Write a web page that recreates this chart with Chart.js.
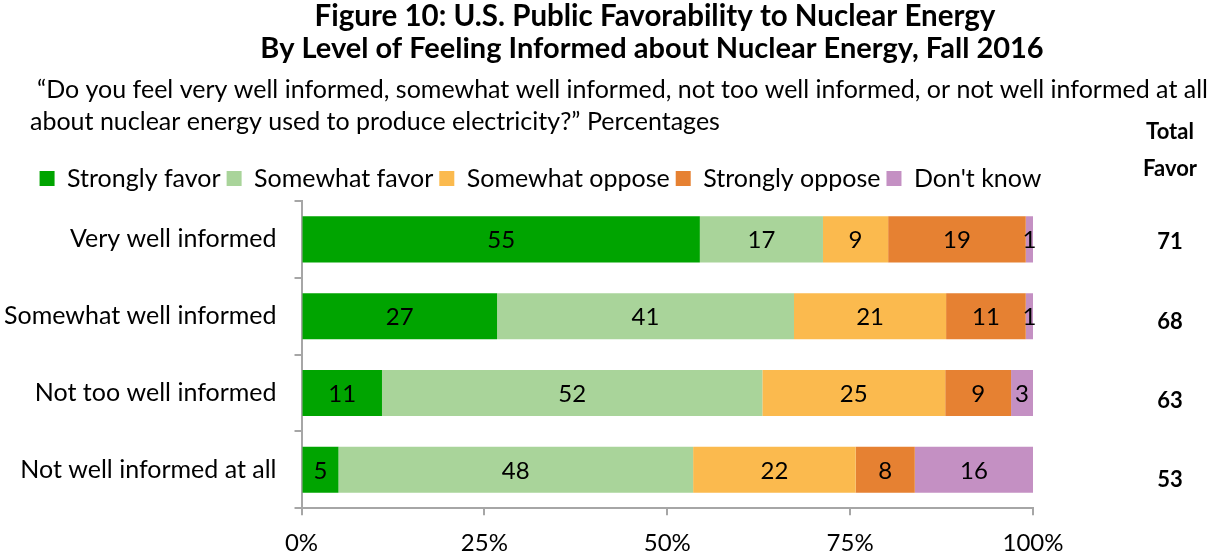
<!DOCTYPE html>
<html>
<head>
<meta charset="utf-8">
<script src="https://cdn.jsdelivr.net/npm/chart.js@4.4.1/dist/chart.umd.min.js"></script>
<style>
  html, body { margin: 0; padding: 0; background: #fff; }
  #wrap { position: relative; width: 1208px; height: 556px; }
</style>
</head>
<body>
<div id="wrap"><canvas id="favorChart" width="1208" height="556"></canvas></div>
<script>
const groups = ["Very well informed", "Somewhat well informed", "Not too well informed", "Not well informed at all"];
const seriesNames = ["Strongly favor", "Somewhat favor", "Somewhat oppose", "Strongly oppose", "Don't know"];
const strongFavor = [55, 27, 11, 5];
const someFavor = [17, 41, 52, 48];
const someOppose = [9, 21, 25, 22];
const strongOppose = [19, 11, 9, 8];
const dontKnow = [1, 1, 3, 16];
const totalFavor = [71, 68, 63, 53];
const xTicks = [0, 25, 50, 75, 100];
const colors = ["#00a400", "#a9d49a", "#fbba4e", "#e68132", "#c490c3"];

const FONT = "Lato, 'Open Sans', sans-serif";
const raw = [strongFavor, someFavor, someOppose, strongOppose, dontKnow];
// each row is drawn as share of its own sum so bars fill 0-100%
const rowSums = groups.map((g, i) => raw.reduce((s, arr) => s + arr[i], 0));

const datasets = raw.map((arr, k) => ({
  label: seriesNames[k],
  data: arr.map((v, i) => v / rowSums[i] * 100),
  rawValues: arr,
  backgroundColor: colors[k],
  borderWidth: 0,
  barPercentage: 0.6,
  categoryPercentage: 1.0
}));

const headerText = {
  id: 'headerText',
  afterDraw(chart) {
    const ctx = chart.ctx;
    ctx.save();
    ctx.fillStyle = '#000';
    ctx.textBaseline = 'middle';
    ctx.textAlign = 'center';
    ctx.font = "bold 29.5px " + FONT;
    ctx.fillText("Figure 10: U.S. Public Favorability to Nuclear Energy", 655, 16);
    ctx.font = "bold 29px " + FONT;
    ctx.fillText("By Level of Feeling Informed about Nuclear Energy, Fall 2016", 652, 49);
    ctx.textAlign = 'left';
    ctx.font = "25px " + FONT;
    ctx.fillText("\u201cDo you feel very well informed, somewhat well informed, not too well informed, or not well informed at all", 37, 90);
    ctx.fillText("about nuclear energy used to produce electricity?\u201d Percentages", 30, 122);
    ctx.textAlign = 'center';
    ctx.font = "bold 22px " + FONT;
    ctx.fillText("Total", 1170, 132);
    ctx.fillText("Favor", 1170, 169);
    // total favor column, one per row
    const y = chart.scales.y;
    totalFavor.forEach((t, i) => {
      ctx.fillText(String(t), 1170, y.getPixelForValue(i) + 3 + i * 2.5);
    });
    ctx.restore();
  }
};

const segLabels = {
  id: 'segLabels',
  afterDatasetsDraw(chart) {
    const ctx = chart.ctx;
    ctx.save();
    ctx.fillStyle = '#000';
    ctx.font = "24px " + FONT;
    ctx.textAlign = 'center';
    ctx.textBaseline = 'middle';
    chart.data.datasets.forEach((ds, k) => {
      chart.getDatasetMeta(k).data.forEach((bar, i) => {
        const cx = (bar.x + bar.base) / 2;
        ctx.fillText(String(ds.rawValues[i]), cx, bar.y + 1);
      });
    });
    ctx.restore();
  }
};

// legend sits a little right of the plot's centre
const legendShift = {
  id: 'legendShift',
  afterLayout(chart) {
    const lg = chart.legend;
    lg.left += 31;
    lg.right += 31;
  }
};

new Chart(document.getElementById('favorChart'), {
  type: 'bar',
  data: { labels: groups, datasets },
  plugins: [headerText, segLabels, legendShift],
  options: {
    indexAxis: 'y',
    responsive: false,
    animation: false,
    layout: { padding: { top: 160, right: 175, bottom: -16, left: -14 } },
    plugins: {
      tooltip: { enabled: false },
      legend: {
        position: 'top',
        labels: {
          boxWidth: 15, boxHeight: 15, padding: 6,
          color: '#000',
          font: { family: FONT, size: 25 }
        }
      }
    },
    scales: {
      x: {
        stacked: true,
        min: 0, max: 100,
        afterBuildTicks(scale) { scale.ticks = xTicks.map(v => ({ value: v })); },
        ticks: {
          callback: v => v + '%',
          color: '#000',
          padding: 14,
          maxRotation: 0,
          font: { family: FONT, size: 24 }
        },
        grid: { drawOnChartArea: false, tickLength: 7, color: '#a6a6a6', lineWidth: 2 },
        border: { color: '#a6a6a6', width: 2 }
      },
      y: {
        stacked: true,
        ticks: { color: '#000', padding: 18, font: { family: FONT, size: 25 } },
        grid: { drawOnChartArea: false, tickLength: 7, color: '#a6a6a6', lineWidth: 2, offset: true },
        border: { color: '#a6a6a6', width: 2 }
      }
    }
  }
});
</script>
</body>
</html>
